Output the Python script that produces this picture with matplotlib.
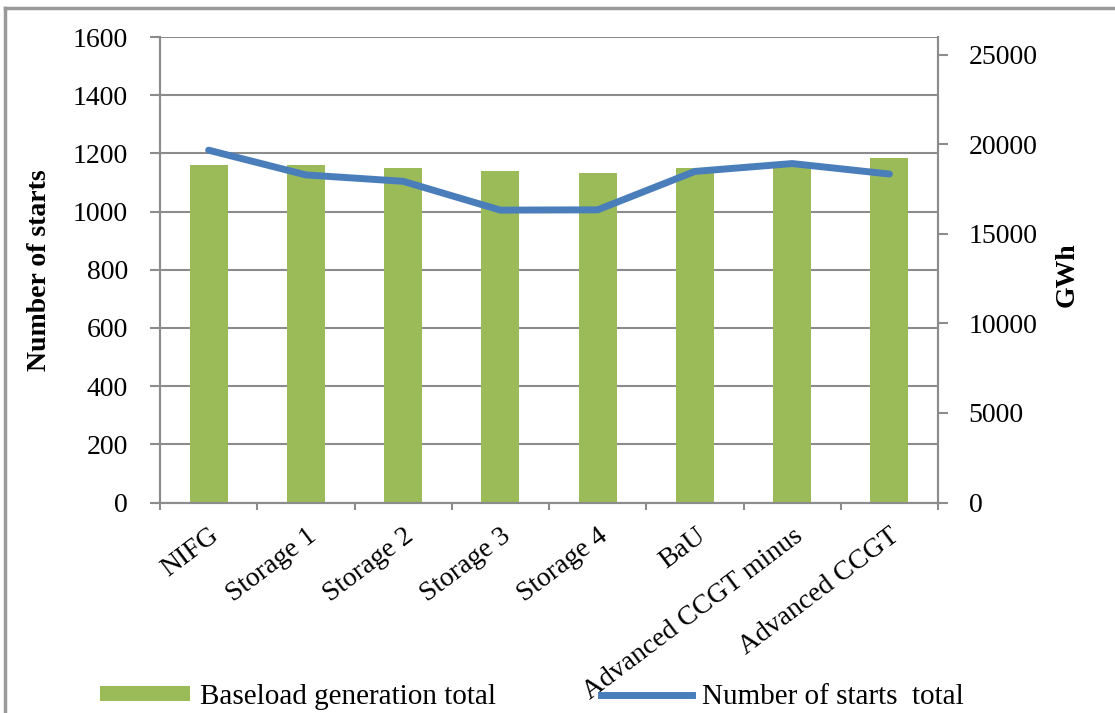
import matplotlib.pyplot as plt
from matplotlib.lines import Line2D
from matplotlib.patches import Patch
import numpy as np

# Scenario results: baseload generation (GWh, right axis) and plant starts (left axis)
scenarios = ["NIFG", "Storage 1", "Storage 2", "Storage 3", "Storage 4",
             "BaU", "Advanced CCGT minus", "Advanced CCGT"]
baseload_gwh = [18870, 18870, 18690, 18500, 18430, 18690, 18970, 19250]
starts_total = [1211, 1126, 1104, 1005, 1006, 1138, 1165, 1129]

left_ticks = [0, 200, 400, 600, 800, 1000, 1200, 1400, 1600]
right_ticks = [0, 5000, 10000, 15000, 20000, 25000]

plt.rcParams["font.family"] = ["Liberation Serif", "DejaVu Serif"]

green = "#9BBB59"
blue = "#4A7EBB"
grey = "#8C8C8C"

fig = plt.figure(figsize=(11.15, 7.13), dpi=100)
ax = fig.add_axes([0.1435, 0.2952, 0.6978, 0.6529])
ax2 = ax.twinx()
ax3 = ax.twinx()

x = np.arange(len(scenarios))

# gridlines sit on the bottom axes, bars above them, line on top
ax.set_ylim(0, 1600)
ax.set_yticks(left_ticks)
ax.yaxis.grid(True, color=grey, linewidth=1.5)
ax.set_axisbelow(True)

ax2.bar(x, baseload_gwh, width=0.39, color=green, zorder=2)
ax2.set_ylim(0, 26000)
ax2.set_yticks(right_ticks)

ax3.plot(x, starts_total, color=blue, linewidth=5, solid_capstyle="round",
         solid_joinstyle="round")
ax3.set_ylim(0, 1600)
ax3.axis("off")

ax.set_xlim(-0.5, len(scenarios) - 0.5)
ax.set_xticks(x)
ax.set_xticklabels(scenarios, rotation=37, ha="right", rotation_mode="anchor",
                   fontsize=20)
ax.set_xticks(np.arange(len(scenarios) + 1) - 0.5, minor=True)
ax.tick_params(axis="x", which="major", length=0, pad=15)
ax.tick_params(axis="x", which="minor", length=5, width=1.5, color=grey,
               direction="out")
ax.tick_params(axis="y", length=7, width=1.5, color=grey, labelsize=20, pad=16)
ax2.tick_params(axis="y", length=7, width=1.5, color=grey, labelsize=20, pad=15)

for a in (ax, ax2):
    for side in ("left", "right", "bottom"):
        a.spines[side].set_color(grey)
        a.spines[side].set_linewidth(1.5)
    a.spines["top"].set_visible(False)

ax.set_ylabel("Number of starts", fontsize=20, fontweight="bold")
ax.yaxis.set_label_coords(-0.139, 0.5)
ax2.set_ylabel("GWh", fontsize=20, fontweight="bold")
ax2.yaxis.set_label_coords(1.15, 0.49)

handles = [Patch(facecolor=green, edgecolor="none"),
           Line2D([0], [0], color=blue, linewidth=5)]
fig.legend(handles, ["Baseload generation total", "Number of starts  total"],
           loc="lower left", bbox_to_anchor=(0.079, -0.012), ncol=2,
           frameon=False, fontsize=21, handlelength=3.1, handleheight=0.38,
           handletextpad=0.35, columnspacing=3.6, borderaxespad=0)

# thin grey frame along the top and left edges
fig.add_artist(Line2D([0.0045, 1], [0.989, 0.989], color="#999999", linewidth=2.5))
fig.add_artist(Line2D([0.0045, 0.0045], [0, 0.989], color="#999999", linewidth=2.5))

plt.savefig("out.png", dpi=100)
